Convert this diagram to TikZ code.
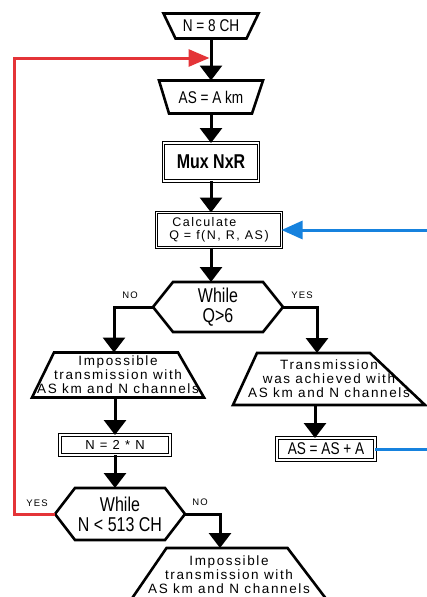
\documentclass[tikz,border=0pt]{standalone}
\usepackage{fontspec}
\setmainfont{Liberation Sans}
\newfontfamily\narrowfont[FakeStretch=0.8]{Liberation Sans}
\newfontfamily\spacedfont[LetterSpace=12]{Liberation Sans}
\usetikzlibrary{shapes.geometric,arrows.meta,positioning,calc}
\definecolor{loopred}{RGB}{228,52,56}
\definecolor{loopblue}{RGB}{22,130,222}
% border of a hexagon drawn on a plain node
\newcommand{\hexborder}[1]{%
  \draw[line width=2.6pt] (#1.west) -- ([xshift=20pt]#1.north west)
    -- ([xshift=-20pt]#1.north east) -- (#1.east)
    -- ([xshift=-20pt]#1.south east) -- ([xshift=20pt]#1.south west) -- cycle;}
% border of a trapezoid: node, top-left, top-right, bottom-left, bottom-right insets
\newcommand{\trapborder}[5]{%
  \draw[line width=2.6pt] ([xshift=#2pt]#1.north west) -- ([xshift=-#3pt]#1.north east)
    -- ([xshift=-#5pt]#1.south east) -- ([xshift=#4pt]#1.south west) -- cycle;}

\begin{document}
\begin{tikzpicture}[x=1pt,y=-1pt,
  box/.style={rectangle,draw,line width=1.3pt,double=white,double distance=1.3pt,
              inner sep=2pt,outer sep=0pt},
  plate/.style={rectangle,inner sep=0pt,outer sep=0pt,align=center},
  hexnode/.style={plate,minimum width=130pt,minimum height=50pt,
                  font=\narrowfont\fontsize{20}{20}\selectfont},
  bigtext/.style={font=\narrowfont\fontsize{17}{17}\selectfont},
  smalltext/.style={font=\spacedfont\fontsize{13.5}{14}\selectfont},
  flag/.style={inner sep=0pt,font=\spacedfont\fontsize{9.5}{9.5}\selectfont},
  arrow/.style={-{Triangle[width=22pt,length=15pt]},line width=3pt},
  redloop/.style={-{Triangle[width=17pt,length=21pt]},line width=3pt,loopred},
  blueloop/.style={line width=3pt,loopblue}
]
\clip (0,0) rectangle (427,597);

\node[plate,bigtext,minimum width=95pt,minimum height=25pt] (n8) at (211,26) {N = 8 CH};
\trapborder{n8}{0}{0}{12}{12}
\node[plate,bigtext,minimum width=104pt,minimum height=33pt] (as) at (211,97) {AS = A km};
\trapborder{as}{0}{0}{10}{11}
\node[box,minimum width=95pt,minimum height=38pt,
      font=\narrowfont\bfseries\fontsize{20}{20}\selectfont] (mux) at (211,162) {Mux NxR};
\node[box,minimum width=125pt,minimum height=35pt,align=left,
      font=\spacedfont\fontsize{12.5}{13}\selectfont] (calc) at (219,230) {\hspace*{3pt}Calculate\\Q = f(N, R, AS)};

\node[hexnode] (q6) at (218,307) {While\\Q>6};
\hexborder{q6}

\node[plate,smalltext,minimum width=172pt,minimum height=45pt] (imp1) at (118,375)
     {Impossible\\transmission with\\AS km and N channels};
\trapborder{imp1}{22}{26}{0}{0}
\node[box,minimum width=110pt,minimum height=20pt,
      font=\spacedfont\fontsize{13}{13}\selectfont] (n2) at (115,445) {N = 2 * N};
\node[plate,smalltext,minimum width=192pt,minimum height=52pt] (trans) at (329,379)
     {Transmission\\was achieved with\\AS km and N channels};
\trapborder{trans}{24}{55}{0}{0}
\node[box,bigtext,minimum width=98pt,minimum height=22pt] (asa) at (326,449) {AS = AS + A};

\node[hexnode,minimum height=52pt] (q513) at (120,514) {While\\N < 513 CH};
\hexborder{q513}
\node[plate,smalltext,minimum width=199pt,minimum height=54pt] (imp2) at (229,575)
     {Impossible\\transmission with\\AS km and N channels};
\trapborder{imp2}{37}{41}{0}{0}

\node[flag] (no6)    at (130,295) {NO};
\node[flag] (yes6)   at (302,295) {YES};
\node[flag] (yes513) at (37,503)  {YES};
\node[flag] (no513)  at (200,502) {NO};

\coordinate (redturn) at (14,58);
\coordinate (bluein)  at (432,230);
\coordinate (blueout) at (432,452);

\draw[arrow] (n8) -- (as);
\draw[arrow] (as) -- (mux);
\draw[arrow] (mux) -- (mux |- calc.north);
\draw[arrow] (calc.south -| mux) -- (q6.north -| mux);
\draw[arrow] (q6.west) -| ([xshift=-4pt]imp1.north);
\draw[arrow] (n2 |- imp1.south) -- (n2);
\draw[arrow] (n2) -- (n2 |- q513.north);
\draw[arrow] (q6.east) -| ([xshift=-12pt]trans.north);
\draw[arrow] ([xshift=-14pt]trans.south) -- ([xshift=-14pt]trans.south |- asa.north);
\draw[arrow] (q513.east) -| ([xshift=-9pt]imp2.north);

\draw[redloop,shorten >=1.5pt] (q513.west) -| (redturn) -- (redturn -| n8);
\draw[blueloop] (asa.east) -- (asa.east -| blueout);
\draw[blueloop,-{Triangle[width=18pt,length=21pt]}] (bluein) -- (calc.east);
\end{tikzpicture}
\end{document}
